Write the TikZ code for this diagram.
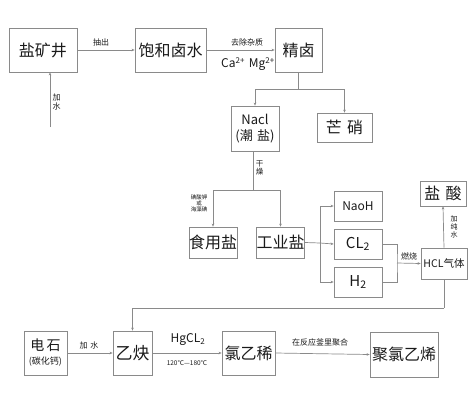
\documentclass[tikz,border=0pt]{standalone}
\usepackage{fontspec}
\setmainfont{Noto Sans CJK SC}
\usetikzlibrary{arrows.meta}
\definecolor{ln}{HTML}{8A8A8A}
\definecolor{tx}{HTML}{1A1A1A}
\begin{document}
\begin{tikzpicture}[x=1pt,y=-1pt,
  box/.style={draw=ln,line width=0.8pt,inner sep=0pt,text=tx,align=center},
  conn/.style={draw=ln,line width=0.7pt},
  arr/.style={conn,-{Stealth[length=3pt,width=2.6pt]}},
  lbl/.style={text=tx,inner sep=0pt,align=center},
  big/.style={font=\fontsize{16}{17}\selectfont},
  small/.style={font=\fontsize{8}{9}\selectfont},
  tiny/.style={font=\fontsize{5.5}{6}\selectfont}]
\useasboundingbox[fill=white] (0,0) rectangle (472,400);
% boxes
\node[box,big,minimum width=68pt,minimum height=44pt] (kj) at (43,50) {盐矿井};
\node[box,big,minimum width=71pt,minimum height=44pt] (bh) at (170.5,50) {饱和卤水};
\node[box,big,minimum width=47pt,minimum height=44pt] (jl) at (298.5,50) {精卤};
\node[box,minimum width=48pt,minimum height=45pt,font=\fontsize{13}{16}\selectfont] (nacl) at (255,128.5) {Nacl\\(潮\,\,盐)};
\node[box,big,minimum width=55pt,minimum height=29pt] (mx) at (344.5,127.5) {芒\,\,硝};
\node[box,big,minimum width=48pt,minimum height=31pt] (sy) at (213,242.5) {食用盐};
\node[box,big,minimum width=47pt,minimum height=31pt] (gy) at (280.5,242.5) {工业盐};
\node[box,minimum width=48pt,minimum height=30pt,font=\fontsize{12}{13}\selectfont] (naoh) at (358,206) {NaoH};
\node[box,minimum width=48pt,minimum height=30pt,font=\fontsize{15}{16}\selectfont] (cl2) at (358,244) {CL\textsubscript{2}};
\node[box,minimum width=48pt,minimum height=30pt,font=\fontsize{15}{16}\selectfont] (h2) at (358,282) {H\textsubscript{2}};
\node[box,minimum width=46pt,minimum height=31pt,font=\fontsize{10.5}{12}\selectfont] (hcl) at (444,263.5) {HCL气体};
\node[box,big,minimum width=46pt,minimum height=25pt] (ys) at (443,193.5) {盐\,\,酸};
\node[box,minimum width=43pt,minimum height=44pt,font=\fontsize{14}{15}\selectfont] (ds) at (45.5,353) {电\,石\\[-1pt]{\fontsize{9}{10}\selectfont(碳化钙)}};
\node[box,minimum width=39pt,minimum height=44pt,font=\fontsize{17}{18}\selectfont] (yq) at (132.5,353) {乙炔};
\node[box,big,minimum width=53pt,minimum height=44pt] (lyx) at (248.5,353) {氯乙稀};
\node[box,minimum width=68pt,minimum height=45pt,font=\fontsize{16}{17}\selectfont] (jlyx) at (404,354.5) {聚氯乙烯};
% coordinates
\coordinate (w1) at (50,127);
\coordinate (jd) at (298.5,89);
\coordinate (nd) at (253,190);
\coordinate (sp) at (320,243);
\coordinate (jn) at (397,263);
\coordinate (tp) at (444,308);
% connectors
\draw[arr] (kj.east) -- (bh.west);
\draw[arr] (w1) -- (w1 |- kj.south);
\draw[arr] (bh.east) -- (jl.west);
\draw[conn] (jl.south) -- (jd);
\draw[arr] (jd) -| (nacl.north);
\draw[arr] (jd) -| (mx.north);
\draw[conn] (nd |- nacl.south) -- (nd);
\draw[arr] (nd) -| (sy.north);
\draw[arr] (nd) -| (gy.north);
\draw[conn] (gy.east) -- (sp);
\draw[arr] (sp) |- (naoh.west);
\draw[arr] (sp) -- (cl2.west);
\draw[arr] (sp) |- (h2.west);
\draw[conn] (cl2.east) -| (jn) |- (h2.east);
\draw[arr] (jn) -- (hcl.west);
\draw[arr] (hcl.north) -- (ys.south);
\draw[conn] (hcl.south) -- (tp);
\draw[arr] (tp) -| (yq.north);
\draw[arr] (ds.east) -- (yq.west);
\draw[arr] (yq.east) -- (lyx.west);
\draw[arr] (lyx.east) -- (jlyx.west);
% labels
\node[lbl,small] (l1) at (101,42) {抽出};
\node[lbl,small] (l2) at (56.5,102) {加\\水};
\node[lbl,small] (l3) at (247,42) {去除杂质};
\node[lbl,font=\fontsize{12}{13}\selectfont] (l4) at (248,64) {Ca\textsuperscript{2+}\,\,Mg\textsuperscript{2+}};
\node[lbl,font=\fontsize{7.5}{8.5}\selectfont] (l5) at (259.5,168) {干\\燥};
\node[lbl,tiny] (l6) at (199,203) {碘酸钾\\或\\海藻碘};
\node[lbl,small] (l7) at (409,256) {燃烧};
\node[lbl,font=\fontsize{7}{8}\selectfont] (l8) at (454,227) {加\\纯\\水};
\node[lbl,small] (l9) at (89,345) {加\,\,水};
\node[lbl,font=\fontsize{12}{13}\selectfont] (l10) at (188,340) {HgCL\textsubscript{2}};
\node[lbl,font=\fontsize{6.5}{7}\selectfont] (l11) at (187,363) {120℃—180℃};
\node[lbl,small] (l12) at (320,342) {在反应釜里聚合};
\end{tikzpicture}
\end{document}
